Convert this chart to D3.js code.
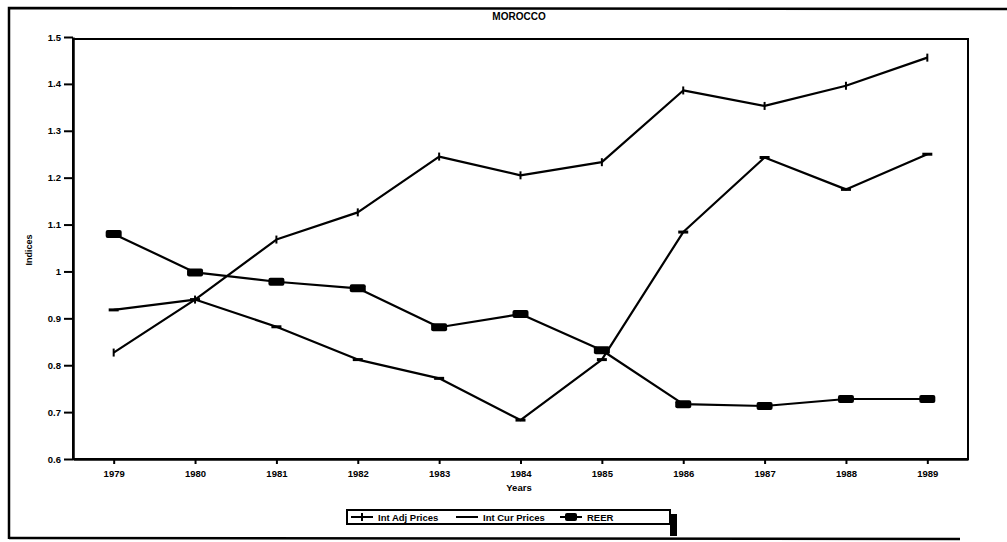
<!DOCTYPE html>
<html>
<head>
<meta charset="utf-8">
<script src="https://cdn.jsdelivr.net/npm/d3@7"></script>
<style>
  body { margin: 0; background: #fff; }
  svg { display: block; font-family: "Liberation Sans", Arial, sans-serif; }
</style>
</head>
<body>
<script>
// values
var years = ["1979", "1980", "1981", "1982", "1983", "1984", "1985", "1986", "1987", "1988", "1989"];
var intAdjPrices = [0.827, 0.940, 1.068, 1.126, 1.245, 1.205, 1.233, 1.386, 1.353, 1.396, 1.456];
var intCurPrices = [0.918, 0.940, 0.882, 0.812, 0.772, 0.683, 0.812, 1.084, 1.243, 1.175, 1.250];
var reer = [1.080, 0.998, 0.978, 0.964, 0.881, 0.909, 0.832, 0.717, 0.713, 0.728, 0.728];
var yTicks = [0.6, 0.7, 0.8, 0.9, 1, 1.1, 1.2, 1.3, 1.4, 1.5];
var seriesNames = ["Int Adj Prices", "Int Cur Prices", "REER"];

var W = 1007, H = 542;
var plotLeft = 73, plotRight = 968, plotTop = 37, plotBottom = 459;

var svg = d3.select("body").append("svg")
    .attr("width", W)
    .attr("height", H);

// outer frame of the page
svg.append("path")
    .attr("d", "M9,539 L9,8 L1007,9")
    .attr("fill", "none")
    .attr("stroke", "#000")
    .attr("stroke-width", 2.5);
svg.append("line")
    .attr("x1", 9).attr("x2", 960)
    .attr("y1", 538).attr("y2", 539)
    .attr("stroke", "#000").attr("stroke-width", 2.5);

var x = d3.scalePoint()
    .domain(years)
    .range([plotLeft, plotRight])
    .padding(0.5);

var y = d3.scaleLinear()
    .domain([0.6, 1.5])
    .range([plotBottom, plotTop]);

// plot frame
svg.append("rect")
    .attr("x", plotLeft).attr("y", plotTop + 2)
    .attr("width", plotRight - plotLeft).attr("height", plotBottom - plotTop - 2)
    .attr("fill", "none")
    .attr("stroke", "#000")
    .attr("stroke-width", 2);

var xAxis = svg.append("g")
    .attr("transform", "translate(0," + plotBottom + ")")
    .call(d3.axisBottom(x).tickSize(5).tickSizeOuter(0).tickPadding(6));
var yAxis = svg.append("g")
    .attr("transform", "translate(" + plotLeft + ",0)")
    .call(d3.axisLeft(y).tickValues(yTicks).tickSize(9).tickSizeOuter(0).tickPadding(3)
        .tickFormat(d => String(d)));

[xAxis, yAxis].forEach(function(g) {
    g.select(".domain").attr("stroke-width", 2.5);
    g.selectAll(".tick line").attr("stroke-width", 2);
    g.selectAll("text")
        .attr("font-size", 9.5)
        .attr("font-weight", "bold")
        .attr("fill", "#000");
});

svg.append("text")
    .attr("x", 519).attr("y", 20)
    .attr("text-anchor", "middle")
    .attr("font-size", 10)
    .attr("font-weight", "bold")
    .text("MOROCCO");

svg.append("text")
    .attr("x", 519).attr("y", 491)
    .attr("text-anchor", "middle")
    .attr("font-size", 9.5)
    .attr("font-weight", "bold")
    .text("Years");

svg.append("text")
    .attr("transform", "translate(32,250) rotate(-90)")
    .attr("text-anchor", "middle")
    .attr("font-size", 9)
    .attr("font-weight", "bold")
    .text("Indices");

var line = d3.line()
    .x((d, i) => x(years[i]))
    .y(d => y(d));

[intAdjPrices, intCurPrices, reer].forEach(function(vals) {
    svg.append("path")
        .datum(vals)
        .attr("d", line)
        .attr("fill", "none")
        .attr("stroke", "#000")
        .attr("stroke-width", 2.2)
        .attr("stroke-linejoin", "round");
});

// markers
svg.selectAll(".adj").data(intAdjPrices).join("line")
    .attr("class", "adj")
    .attr("x1", (d, i) => x(years[i])).attr("x2", (d, i) => x(years[i]))
    .attr("y1", d => y(d) - 4).attr("y2", d => y(d) + 4)
    .attr("stroke", "#000").attr("stroke-width", 2);

svg.selectAll(".cur").data(intCurPrices).join("line")
    .attr("class", "cur")
    .attr("x1", (d, i) => x(years[i]) - 5).attr("x2", (d, i) => x(years[i]) + 5)
    .attr("y1", d => y(d)).attr("y2", d => y(d))
    .attr("stroke", "#000").attr("stroke-width", 3);

svg.selectAll(".reer").data(reer).join("rect")
    .attr("class", "reer")
    .attr("x", (d, i) => x(years[i]) - 8)
    .attr("y", d => y(d) - 4)
    .attr("width", 16).attr("height", 8)
    .attr("rx", 2)
    .attr("fill", "#000");

// legend
var lg = svg.append("g");
lg.append("rect")
    .attr("x", 670).attr("y", 514)
    .attr("width", 7).attr("height", 22)
    .attr("fill", "#000");
lg.append("rect")
    .attr("x", 347).attr("y", 510)
    .attr("width", 323).attr("height", 14)
    .attr("fill", "#fff")
    .attr("stroke", "#000")
    .attr("stroke-width", 2);

var legendX = [351, 456, 560];
seriesNames.forEach(function(name, i) {
    var lx = legendX[i], ly = 517;
    lg.append("line")
        .attr("x1", lx).attr("x2", lx + 22)
        .attr("y1", ly).attr("y2", ly)
        .attr("stroke", "#000").attr("stroke-width", 2);
    if (i == 0) {
        lg.append("line")
            .attr("x1", lx + 11).attr("x2", lx + 11)
            .attr("y1", ly - 4).attr("y2", ly + 4)
            .attr("stroke", "#000").attr("stroke-width", 2);
    }
    if (i == 2) {
        lg.append("rect")
            .attr("x", lx + 5).attr("y", ly - 4)
            .attr("width", 12).attr("height", 8)
            .attr("rx", 2).attr("fill", "#000");
    }
    lg.append("text")
        .attr("x", lx + 27).attr("y", ly + 3.5)
        .attr("font-size", 9.5)
        .attr("font-weight", "bold")
        .text(name);
});
</script>
</body>
</html>
